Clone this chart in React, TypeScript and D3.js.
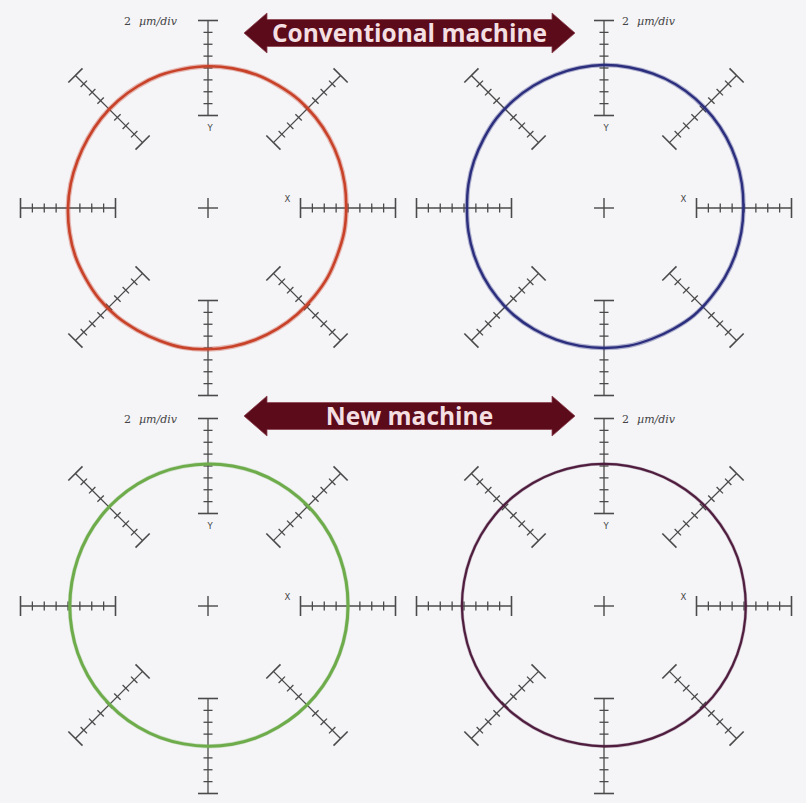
import React from 'react';
import * as d3 from 'd3';

// ---- data ----
const bannerLabels = ['Conventional machine', 'New machine'];
const barAnglesDeg = [0, 45, 90, 135, 180, 225, 270, 315];
const tickValuesUm = [-8, -6, -4, -2, 0, 2, 4, 6, 8];
const scaleNumber = '2';
const scaleUnit = 'µm/div';
const axisLabels = ['X', 'Y'];

// radial deviation (µm) from nominal circle, sampled every 10° counter-clockwise from +X
const devConventionalA = [-0.3, -0.2, -0.1, 0.0, 0.1, 0.2, 0.2, 0.3, 0.3, 0.3, 0.2, 0.2, 0.1, 0.0, -0.1, -0.2, -0.2, -0.1, 0.0, 0.1, 0.2, 0.2, 0.3, 0.3, 0.2, 0.2, 0.3, 0.2, 0.1, 0.0, -0.1, -0.2, -0.3, -0.3, -0.4, -0.3];
const devConventionalB = [-0.1, 0.0, 0.1, 0.2, 0.3, 0.4, 0.5, 0.5, 0.5, 0.5, 0.4, 0.3, 0.2, 0.1, 0.0, -0.2, -0.3, -0.4, -0.5, -0.4, -0.3, -0.2, -0.1, 0.0, 0.0, 0.0, 0.0, 0.0, 0.0, -0.1, -0.1, 0.0, -0.1, -0.1, -0.1, -0.1];
const devNewA = [0.0, 0.05, 0.1, 0.15, 0.2, 0.25, 0.3, 0.35, 0.35, 0.35, 0.3, 0.25, 0.15, 0.05, -0.05, -0.15, -0.25, -0.3, -0.3, -0.3, -0.25, -0.2, -0.15, -0.1, -0.05, 0.0, 0.0, 0.05, 0.05, 0.05, 0.0, 0.0, 0.0, 0.0, 0.0, 0.0];
const devNewB = [0.3, 0.3, 0.35, 0.35, 0.35, 0.35, 0.35, 0.35, 0.35, 0.35, 0.35, 0.35, 0.35, 0.35, 0.35, 0.35, 0.35, 0.35, 0.35, 0.3, 0.3, 0.25, 0.2, 0.15, 0.1, 0.05, 0.0, 0.05, 0.1, 0.15, 0.2, 0.25, 0.3, 0.3, 0.3, 0.3];

// ---- layout / style ----
const W = 806;
const H = 803;
const R = 140; // nominal radius (0 µm)
const HALF_BAR = 47.5; // 8 µm in px
const colX = [208, 604];
const rowY = [208, 606];
const bannerY = [33, 416];
const bannerX0 = 244;
const bannerX1 = 575;

const panels = [
  { dev: devConventionalA, color: '#c8422a', width: 2.6, halo: 5, haloOpacity: 0.35, col: 0, row: 0, labelSide: 'left' },
  { dev: devConventionalB, color: '#2b2d7d', width: 2.4, halo: 4.6, haloOpacity: 0.35, col: 1, row: 0, labelSide: 'right' },
  { dev: devNewA, color: '#6dab4b', width: 3, halo: 4.2, haloOpacity: 0.3, col: 0, row: 1, labelSide: 'left' },
  { dev: devNewB, color: '#4f1d3e', width: 2.2, halo: 3.4, haloOpacity: 0.3, col: 1, row: 1, labelSide: 'right' },
];

const rScale = d3.scaleLinear().domain([-8, 8]).range([R - HALF_BAR, R + HALF_BAR]);

function Bar({ deg }: { deg: number }) {
  const phi = (deg * Math.PI) / 180;
  const ux = Math.cos(phi);
  const uy = -Math.sin(phi);
  const px = Math.sin(phi);
  const py = Math.cos(phi);
  const r0 = rScale(tickValuesUm[0]);
  const r1 = rScale(tickValuesUm[tickValuesUm.length - 1]);
  return (
    <g stroke="#4a4a4a" strokeWidth={1.3} fill="none">
      <line x1={ux * r0} y1={uy * r0} x2={ux * r1} y2={uy * r1} />
      {tickValuesUm.map((v, i) => {
        const r = rScale(v);
        const isEnd = i === 0 || i === tickValuesUm.length - 1;
        const h = isEnd ? 10 : 4.5;
        return (
          <line
            key={v}
            x1={ux * r - px * h}
            y1={uy * r - py * h}
            x2={ux * r + px * h}
            y2={uy * r + py * h}
            strokeWidth={isEnd ? 1.6 : 1.3}
          />
        );
      })}
    </g>
  );
}

function Banner({ y, label }: { y: number; label: string }) {
  const body = 13.5;
  const head = 20;
  const hl = 23;
  const pts = [
    [bannerX0, y],
    [bannerX0 + hl, y - head],
    [bannerX0 + hl, y - body],
    [bannerX1 - hl, y - body],
    [bannerX1 - hl, y - head],
    [bannerX1, y],
    [bannerX1 - hl, y + head],
    [bannerX1 - hl, y + body],
    [bannerX0 + hl, y + body],
    [bannerX0 + hl, y + head],
  ];
  return (
    <g>
      <polygon points={pts.map((p) => p.join(',')).join(' ')} fill="#5b0b19" stroke="#8e4452" strokeWidth={0.8} />
      <text
        x={(bannerX0 + bannerX1) / 2}
        y={y + 8.5}
        textAnchor="middle"
        fontFamily="'Open Sans', sans-serif"
        fontWeight={700}
        fontSize={24.5}
        fill="#f4dfe2"
      >
        {label}
      </text>
    </g>
  );
}

function Panel({ p }: { p: (typeof panels)[number] }) {
  const cx = colX[p.col];
  const cy = rowY[p.row];
  const step = (2 * Math.PI) / p.dev.length;
  const line = d3
    .lineRadial<number>()
    .angle((_, i) => Math.PI / 2 - i * step)
    .radius((d) => rScale(d))
    .curve(d3.curveCatmullRomClosed);
  const topCapY = -rScale(8);
  const d = line(p.dev) || '';
  return (
    <g transform={`translate(${cx},${cy})`}>
      {barAnglesDeg.map((a) => (
        <Bar key={a} deg={a} />
      ))}
      <g stroke="#4a4a4a" strokeWidth={1.4}>
        <line x1={-10} y1={0} x2={10} y2={0} />
        <line x1={0} y1={-10} x2={0} y2={10} />
      </g>
      <path d={d} fill="none" stroke={p.color} strokeWidth={p.halo} strokeOpacity={p.haloOpacity} />
      <path d={d} fill="none" stroke={p.color} strokeWidth={p.width} strokeLinejoin="round" />
      <text
        x={p.labelSide === 'left' ? -31 : 18}
        y={topCapY + 4}
        textAnchor={p.labelSide === 'left' ? 'end' : 'start'}
        fontFamily="'DejaVu Serif', serif"
        fontSize={11}
        fill="#444"
      >
        <tspan>{scaleNumber}</tspan>
        <tspan dx={8} fontStyle="italic">
          {scaleUnit}
        </tspan>
      </text>
      <text x={2} y={-rScale(-8) + 15} textAnchor="middle" fontFamily="'DejaVu Sans', sans-serif" fontSize={8.5} fill="#444">
        {axisLabels[1]}
      </text>
      <text x={rScale(-8) - 13} y={-6} textAnchor="middle" fontFamily="'DejaVu Sans', sans-serif" fontSize={8.5} fill="#444">
        {axisLabels[0]}
      </text>
    </g>
  );
}

export default function App() {
  return (
    <svg width={W} height={H} style={{ position: 'absolute', left: 0, top: 0 }}>
      <rect width={W} height={H} fill="#f5f5f8" />
      {panels.map((p, i) => (
        <Panel key={i} p={p} />
      ))}
      {bannerLabels.map((l, i) => (
        <Banner key={l} y={bannerY[i]} label={l} />
      ))}
    </svg>
  );
}
